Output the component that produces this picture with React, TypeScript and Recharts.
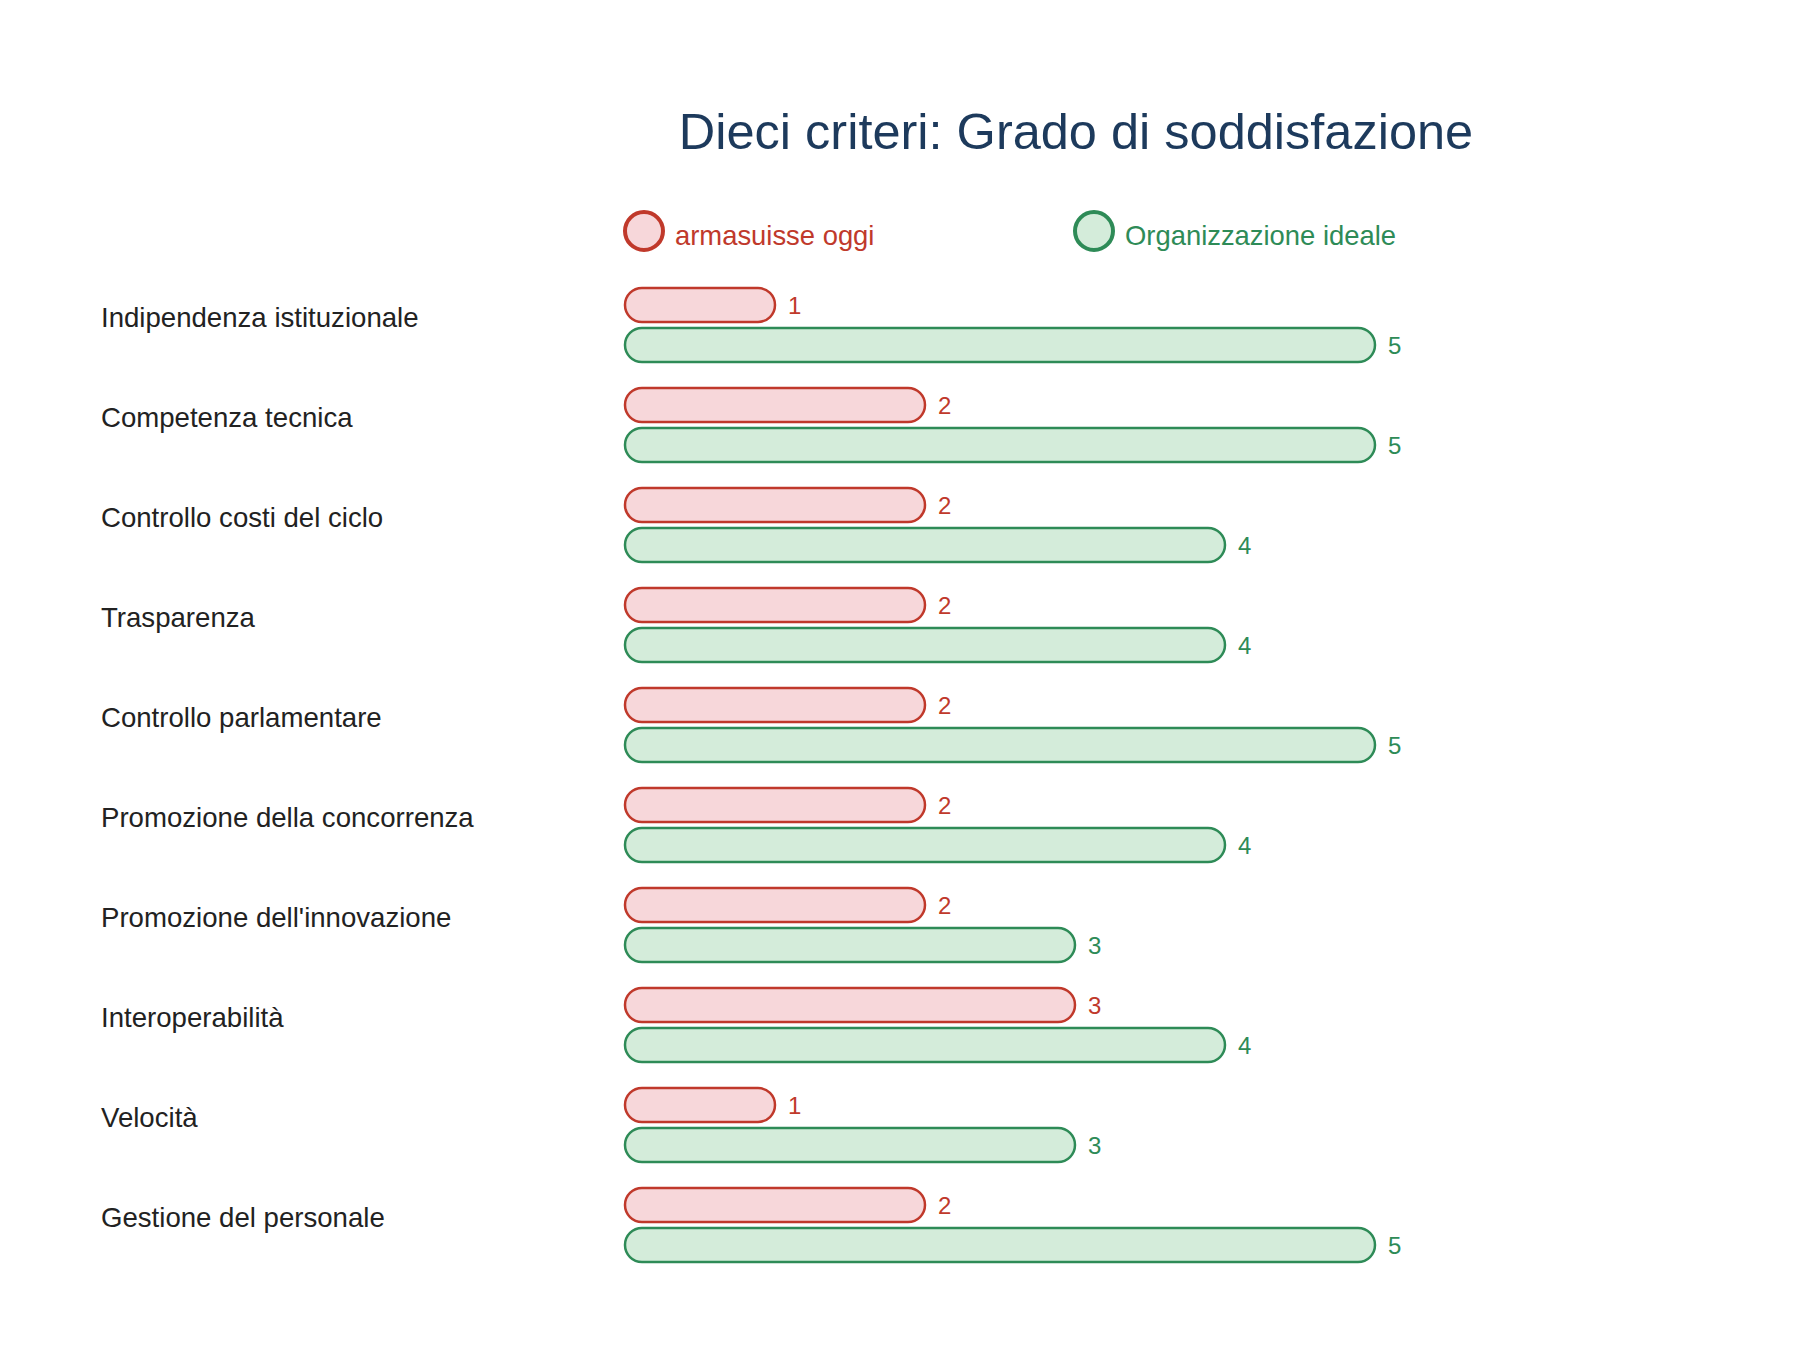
import React from 'react';
import { BarChart, Bar, XAxis, YAxis, LabelList } from 'recharts';

const criteria = [
  'Indipendenza istituzionale',
  'Competenza tecnica',
  'Controllo costi del ciclo',
  'Trasparenza',
  'Controllo parlamentare',
  'Promozione della concorrenza',
  "Promozione dell'innovazione",
  'Interoperabilità',
  'Velocità',
  'Gestione del personale',
];
const oggi = [1, 2, 2, 2, 2, 2, 2, 3, 1, 2];
const ideale = [5, 5, 4, 4, 5, 4, 3, 4, 3, 5];
const seriesNames = ['armasuisse oggi', 'Organizzazione ideale'];

const rows = criteria.map((name, i) => ({ name, oggi: oggi[i], ideale: ideale[i] }));

const FONT = "Helvetica, 'Liberation Sans', Arial, sans-serif";
const RED = '#c0392b';
const RED_FILL = '#f7d7da';
const GREEN = '#2e8b57';
const GREEN_FILL = '#d4ecda';

function CategoryTick({ y, payload }: any) {
  return (
    <text x={101} y={y} dy={2} textAnchor="start" fontSize={27.6} fill="#222" fontFamily={FONT}>
      {payload.value}
    </text>
  );
}

// legend drawn by hand so the circles keep the pale fill + strong outline
function LegendRow() {
  const items = [
    { name: seriesNames[0], stroke: RED, fill: RED_FILL, x: 44 },
    { name: seriesNames[1], stroke: GREEN, fill: GREEN_FILL, x: 494 },
  ];
  return (
    <svg width={900} height={60} style={{ position: 'absolute', top: 200, left: 600 }}>
      {items.map((it) => (
        <g key={it.name}>
          <circle cx={it.x} cy={31} r={19} fill={it.fill} stroke={it.stroke} strokeWidth={4} />
          <text x={it.x + 31} y={45} fontSize={27.4} fill={it.stroke} fontFamily={FONT}>
            {it.name}
          </text>
        </g>
      ))}
    </svg>
  );
}

export default function App() {
  return (
    <div style={{ position: 'relative', width: 1800, height: 1363, background: '#fff', fontFamily: FONT }}>
      <style>{'body{margin:0}'}</style>
      <div
        style={{
          position: 'absolute',
          top: 0,
          left: 0,
          width: 2152,
          textAlign: 'center',
          fontSize: 50.5,
          lineHeight: '50px',
          paddingTop: 107,
          color: '#1d3a5c',
          pointerEvents: 'none',
          zIndex: 2,
        }}
      >
        Dieci criteri: Grado di soddisfazione
      </div>
      <LegendRow />
      <BarChart
        width={1800}
        height={1363}
        data={rows}
        layout="vertical"
        margin={{ top: 275, right: 425, bottom: 88, left: 0 }}
        barSize={34}
        barGap={6}
      >
        <XAxis type="number" domain={[0, 5]} hide />
        <YAxis type="category" dataKey="name" width={625} axisLine={false} tickLine={false} tick={<CategoryTick />} />
        <Bar dataKey="oggi" name={seriesNames[0]} fill={RED_FILL} stroke={RED} strokeWidth={2.5} radius={17} isAnimationActive={false}>
          <LabelList dataKey="oggi" position="right" offset={13} fill={RED} fontSize={24} fontFamily={FONT} />
        </Bar>
        <Bar dataKey="ideale" name={seriesNames[1]} fill={GREEN_FILL} stroke={GREEN} strokeWidth={2.5} radius={17} isAnimationActive={false}>
          <LabelList dataKey="ideale" position="right" offset={13} fill={GREEN} fontSize={24} fontFamily={FONT} />
        </Bar>
      </BarChart>
    </div>
  );
}
